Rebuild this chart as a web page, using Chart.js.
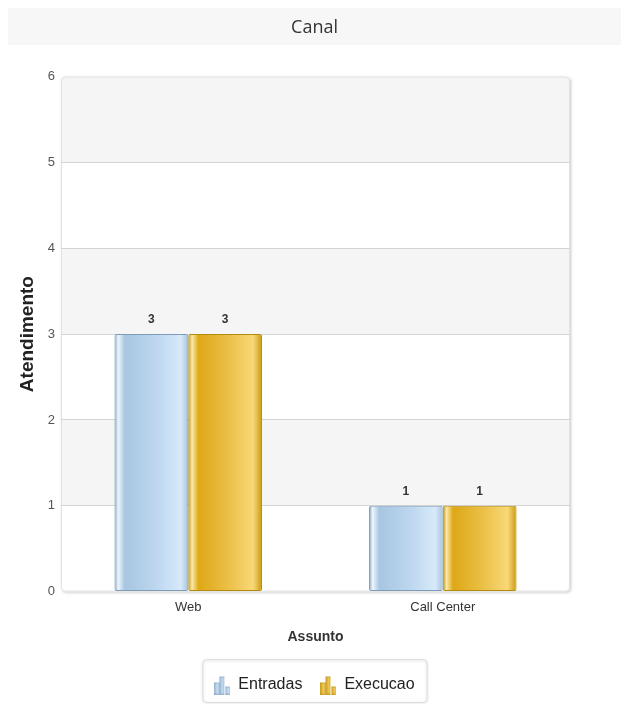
<!DOCTYPE html>
<html>
<head>
<meta charset="utf-8">
<script src="https://cdn.jsdelivr.net/npm/chart.js@4.4.0/dist/chart.umd.min.js"></script>
<style>
  html, body { margin: 0; padding: 0; background: #fff; }
  #wrap { width: 621px; height: 704px; }
</style>
</head>
<body>
<div id="wrap"><canvas id="chart" width="621" height="704"></canvas></div>
<script>
// dados do gráfico
const categorias = ['Web', 'Call Center'];
const entradas = [3, 1];
const execucao = [3, 1];
const titulo = 'Canal';
const tituloY = 'Atendimento';
const tituloX = 'Assunto';

const BAR_PCT = 0.58;
const FONTE = '"Liberation Sans", Arial, sans-serif';

// gradiente "cilindro" para as barras
function barGradient(ctx, left, w, stops) {
    const g = ctx.createLinearGradient(left, 0, left + w, 0);
    stops.forEach(s => g.addColorStop(s[0], s[1]));
    return g;
}
const blueStops = [[0, '#7e9fbd'], [0.05, '#eef6fd'], [0.14, '#a8c6e1'], [0.55, '#bcd6ee'], [0.9, '#d6e9fa'], [1, '#a9c3dc']];
const goldStops = [[0, '#b8880a'], [0.05, '#fbeaa8'], [0.14, '#dea816'], [0.55, '#ebc048'], [0.88, '#f8d877'], [1, '#c99a10']];

function scriptedFill(stops, dsIndex) {
    return function (c) {
        const chart = c.chart;
        const xs = chart.scales.x;
        if (!xs || xs.width === undefined) return stops[2][1];
        const catW = xs.width / categorias.length;
        const barW = catW * BAR_PCT / 2;
        const center = xs.getPixelForValue(c.dataIndex);
        const left = dsIndex === 0 ? center - barW : center;
        return barGradient(chart.ctx, left, barW, stops);
    };
}

// ícone de legenda (mini gráfico de barras)
function legendIcon(stops, dark) {
    const cv = document.createElement('canvas');
    cv.width = 16; cv.height = 19;
    const c = cv.getContext('2d');
    const bars = [[0, 7], [5.5, 1], [11, 11]];
    bars.forEach(b => {
        c.fillStyle = barGradient(c, b[0], 4.5, stops);
        c.fillRect(b[0], b[1], 4.5, 19 - b[1]);
        c.strokeStyle = dark;
        c.lineWidth = 0.5;
        c.strokeRect(b[0] + 0.25, b[1] + 0.25, 4, 18.5 - b[1]);
    });
    return cv;
}

function roundRect(ctx, x, y, w, h, r) {
    ctx.beginPath();
    ctx.moveTo(x + r, y);
    ctx.lineTo(x + w - r, y);
    ctx.quadraticCurveTo(x + w, y, x + w, y + r);
    ctx.lineTo(x + w, y + h - r);
    ctx.quadraticCurveTo(x + w, y + h, x + w - r, y + h);
    ctx.lineTo(x + r, y + h);
    ctx.quadraticCurveTo(x, y + h, x, y + h - r);
    ctx.lineTo(x, y + r);
    ctx.quadraticCurveTo(x, y, x + r, y);
    ctx.closePath();
}

const fundoPlugin = {
    id: 'fundo',
    beforeDraw(chart) {
        const ctx = chart.ctx;
        const a = chart.chartArea;
        const y = chart.scales.y;
        ctx.save();
        // faixa do título
        ctx.fillStyle = '#f7f7f7';
        ctx.fillRect(8, 8, chart.width - 8, 37);
        // sombra e borda da área de plotagem
        ctx.shadowColor = 'rgba(0,0,0,0.22)';
        ctx.shadowBlur = 3;
        ctx.shadowOffsetX = 1;
        ctx.shadowOffsetY = 1;
        roundRect(ctx, a.left, a.top, a.right - a.left, a.bottom - a.top, 4);
        ctx.fillStyle = '#ffffff';
        ctx.fill();
        ctx.shadowColor = 'transparent';
        // faixas alternadas
        ctx.save();
        roundRect(ctx, a.left, a.top, a.right - a.left, a.bottom - a.top, 4);
        ctx.clip();
        for (let v = 1; v < 6; v += 2) {
            const top = y.getPixelForValue(v + 1);
            const bot = y.getPixelForValue(v);
            ctx.fillStyle = '#f5f5f5';
            ctx.fillRect(a.left, top, a.right - a.left, bot - top);
        }
        ctx.restore();
        roundRect(ctx, a.left + 0.5, a.top + 0.5, a.right - a.left - 1, a.bottom - a.top - 1, 4);
        ctx.strokeStyle = '#e2e2e2';
        ctx.lineWidth = 1;
        ctx.stroke();
        ctx.restore();
    },
    afterDraw(chart) {
        // caixa da legenda
        const lg = chart.legend;
        if (!lg || !lg.legendHitBoxes.length) return;
        const boxes = lg.legendHitBoxes;
        const x0 = boxes[0].left - 12;
        const x1 = boxes[boxes.length - 1].left + boxes[boxes.length - 1].width + 12;
        const ctx = chart.ctx;
        ctx.save();
        ctx.shadowColor = 'rgba(0,0,0,0.18)';
        ctx.shadowBlur = 3;
        ctx.shadowOffsetY = 1;
        roundRect(ctx, x0 + 0.5, lg.top + 0.5, x1 - x0, lg.bottom - lg.top - 1, 4);
        ctx.strokeStyle = '#dcdcdc';
        ctx.stroke();
        ctx.restore();
    }
};

const rotulosPlugin = {
    id: 'rotulos',
    afterDatasetsDraw(chart) {
        const ctx = chart.ctx;
        ctx.save();
        ctx.font = 'bold 12px ' + FONTE;
        ctx.fillStyle = '#333';
        ctx.textAlign = 'center';
        ctx.textBaseline = 'middle';
        chart.data.datasets.forEach((ds, i) => {
            chart.getDatasetMeta(i).data.forEach((bar, j) => {
                ctx.fillText(ds.data[j], bar.x, bar.y - 14);
            });
        });
        ctx.restore();
    }
};

new Chart(document.getElementById('chart'), {
    type: 'bar',
    data: {
        labels: categorias,
        datasets: [{
            label: 'Entradas',
            data: entradas,
            backgroundColor: scriptedFill(blueStops, 0),
            borderColor: '#7d9cb8',
            borderWidth: 1,
            borderRadius: 2,
            borderSkipped: false,
            pointStyle: legendIcon(blueStops, '#7d9cb8')
        }, {
            label: 'Execucao',
            data: execucao,
            backgroundColor: scriptedFill(goldStops, 1),
            borderColor: '#b48a0a',
            borderWidth: 1,
            borderRadius: 2,
            borderSkipped: false,
            pointStyle: legendIcon(goldStops, '#b48a0a')
        }]
    },
    options: {
        responsive: false,
        animation: false,
        devicePixelRatio: 1,
        layout: { padding: { top: 8, left: 8, right: 0, bottom: 1 } },
        datasets: {
            bar: { categoryPercentage: BAR_PCT, barPercentage: 1 }
        },
        plugins: {
            title: {
                display: true,
                text: titulo,
                color: '#333',
                font: { family: '"Open Sans", sans-serif', size: 18, weight: 'normal' },
                padding: { top: 9, bottom: 38 }
            },
            legend: {
                position: 'bottom',
                labels: {
                    usePointStyle: true,
                    color: '#222',
                    font: { family: FONTE, size: 16 },
                    padding: 18,
                    boxHeight: 19
                }
            },
            tooltip: { enabled: false }
        },
        scales: {
            x: {
                grid: { display: false, drawTicks: false },
                border: { display: false },
                ticks: {
                    color: '#333',
                    font: { family: FONTE, size: 13 },
                    padding: 8
                },
                title: {
                    display: true,
                    text: tituloX,
                    color: '#333',
                    font: { family: FONTE, size: 14, weight: 'bold' },
                    padding: { top: 6, bottom: 13 }
                }
            },
            y: {
                min: 0,
                max: 6,
                ticks: {
                    stepSize: 1,
                    color: '#555',
                    font: { family: FONTE, size: 13 },
                    padding: 6
                },
                grid: {
                    drawTicks: false,
                    color: c => (c.tick && (c.tick.value === 0 || c.tick.value === 6)) ? 'transparent' : '#d4d4d4'
                },
                border: { display: false },
                title: {
                    display: true,
                    text: tituloY,
                    color: '#222',
                    font: { family: FONTE, size: 19, weight: 'bold' },
                    padding: { top: 8, bottom: 0 }
                },
                afterFit: s => { s.width = 53; }
            },
            // eixo vazio à direita só para reservar a margem
            margem: {
                position: 'right',
                display: true,
                grid: { display: false, drawTicks: false },
                border: { display: false },
                ticks: { display: false },
                afterFit: s => { s.width = 51; }
            }
        }
    },
    plugins: [fundoPlugin, rotulosPlugin]
});
</script>
</body>
</html>
